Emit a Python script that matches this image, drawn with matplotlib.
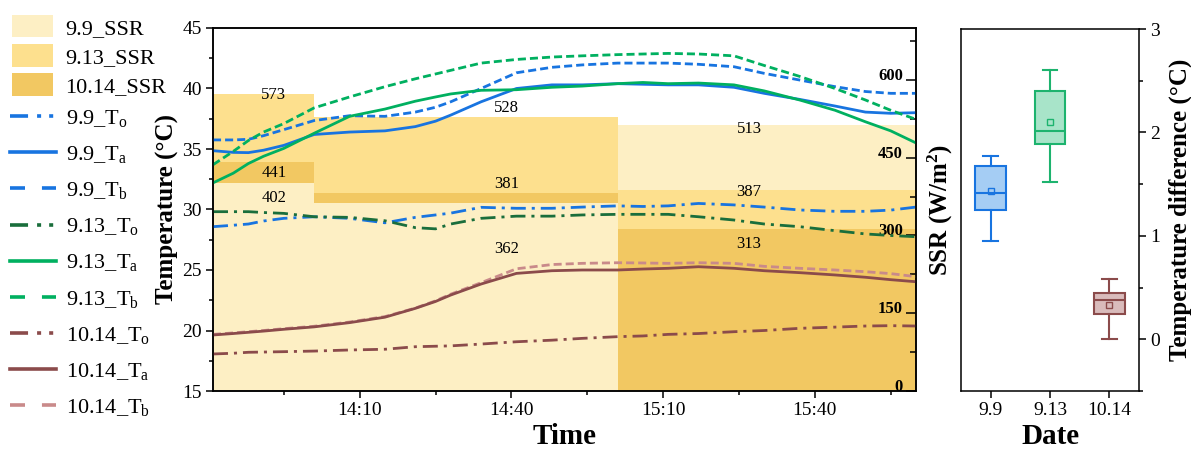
import matplotlib
matplotlib.use('Agg')
import matplotlib.pyplot as plt
from matplotlib.patches import Patch
from matplotlib.lines import Line2D
from matplotlib.ticker import MultipleLocator

plt.rcParams['font.family'] = 'Liberation Serif'
plt.rcParams['mathtext.fontset'] = 'custom'
plt.rcParams['mathtext.rm'] = 'Liberation Serif'
plt.rcParams['mathtext.it'] = 'Liberation Serif:italic'
plt.rcParams['mathtext.bf'] = 'Liberation Serif:bold'
plt.rcParams['lines.scale_dashes'] = False


def clock(s):
    h, m = s.split(':')
    return int(h) * 60 + int(m)


# Sampling times shared by all temperature series
times = ['13:41', '13:45', '13:48', '13:51', '13:55', '14:01', '14:08', '14:15',
         '14:21', '14:25', '14:28', '14:34', '14:41', '14:48', '14:54', '15:01',
         '15:06', '15:11', '15:17', '15:24', '15:30', '15:37', '15:44', '15:50',
         '15:55', '16:00']

# Temperatures (degC)
t99_o = [28.58, 28.7, 28.8, 29.05, 29.27, 29.4, 29.27, 28.9, 29.35, 29.55, 29.7,
         30.18, 30.1, 30.1, 30.2, 30.3, 30.25, 30.3, 30.5, 30.38, 30.2, 29.96,
         29.85, 29.85, 29.95, 30.2]
t99_a = [34.86, 34.72, 34.7, 34.9, 35.3, 36.2, 36.4, 36.5, 36.85, 37.3, 37.8,
         38.9, 40.0, 40.3, 40.3, 40.4, 40.35, 40.3, 40.3, 40.1, 39.6, 39.1,
         38.55, 38.05, 37.95, 38.0]
t99_b = [35.75, 35.75, 35.8, 36.1, 36.6, 37.35, 37.75, 37.7, 38.05, 38.45, 38.9,
         40.0, 41.3, 41.75, 41.95, 42.1, 42.1, 42.1, 42.0, 41.8, 41.25, 40.7,
         40.15, 39.75, 39.6, 39.6]
t913_o = [29.82, 29.82, 29.82, 29.75, 29.68, 29.4, 29.35, 29.07, 28.5, 28.4, 28.8,
          29.27, 29.45, 29.45, 29.55, 29.6, 29.6, 29.6, 29.4, 29.13, 28.8, 28.58,
          28.25, 27.98, 27.85, 27.75]
t913_a = [32.2, 33.0, 33.8, 34.4, 35.05, 36.3, 37.7, 38.3, 38.95, 39.3, 39.55,
          39.85, 39.9, 40.1, 40.2, 40.4, 40.5, 40.4, 40.45, 40.3, 39.8, 39.05,
          38.2, 37.25, 36.5, 35.5]
t913_b = [33.7, 34.8, 35.7, 36.4, 37.1, 38.4, 39.3, 40.15, 40.8, 41.2, 41.5,
          42.1, 42.4, 42.6, 42.7, 42.8, 42.85, 42.9, 42.85, 42.7, 41.9, 41.0,
          40.0, 39.05, 38.2, 37.45]
t1014_o = [18.06, 18.12, 18.2, 18.22, 18.25, 18.3, 18.39, 18.45, 18.66, 18.7,
           18.73, 18.88, 19.07, 19.2, 19.35, 19.49, 19.55, 19.68, 19.75, 19.9,
           20.0, 20.18, 20.28, 20.37, 20.4, 20.37]
t1014_a = [19.63, 19.75, 19.85, 19.95, 20.1, 20.3, 20.65, 21.1, 21.83, 22.4,
           22.93, 23.84, 24.72, 24.94, 25.0, 25.0, 25.08, 25.14, 25.27, 25.14,
           24.94, 24.78, 24.59, 24.4, 24.2, 24.03]
t1014_b = [19.68, 19.8, 19.9, 20.0, 20.15, 20.35, 20.7, 21.15, 21.85, 22.45,
           23.0, 23.95, 25.1, 25.45, 25.55, 25.6, 25.58, 25.55, 25.6, 25.55,
           25.3, 25.14, 25.0, 24.86, 24.7, 24.45]

# Solar radiation (W/m2) per time block
ssr_start = ['13:41', '14:01', '15:01']
ssr_end = ['14:01', '15:01', '16:00']
ssr_99 = [402, 362, 513]
ssr_913 = [573, 528, 387]
ssr_1014 = [441, 381, 313]

# Temperature difference box statistics
dates = ['9.9', '9.13', '10.14']
box_q1 = [1.25, 1.889, 0.242]
box_med = [1.418, 2.018, 0.38]
box_q3 = [1.676, 2.404, 0.451]
box_lo = [0.954, 1.524, 0.0]
box_hi = [1.776, 2.60, 0.58]
box_mean = [1.437, 2.105, 0.332]

# styling
blue = '#1874E0'
green = '#00B060'
dkgreen = '#1A6E3C'
brown = '#8B4B4B'
pink = '#C98A8A'
ssr_colors = ['#FDEFC4', '#FDE08E', '#F2C862']
box_fill = ['#A5CDF4', '#A8E4C9', '#D9BBBB']
box_edge = [blue, '#1DB36E', brown]
dash = (0, (5.8, 2.9))
dashdot = (0, (10.8, 4.3, 2.2, 4.3))
leg_dash = (0, (10.8, 12.2))
leg_dashdot = (0, (13, 6.5, 2.9, 5.8, 2.9, 20))
# label offsets above/below bar tops, per block
lab_x = ['13:53', '14:39', '15:27']
lab_dy = [[-29, -88, -8], [-2, 18, -4], [-20, 18, -29]]

fig = plt.figure(figsize=(11.91, 4.51), dpi=100)
W, H = 1191.0, 451.0
ax = fig.add_axes([213 / W, 60 / H, 703 / W, 363 / H])
ax2 = ax.twinx()
ax.set_zorder(ax2.get_zorder() + 1)
ax.patch.set_visible(False)

# SSR blocks, tallest drawn first so each one stays visible
x0 = [clock(s) for s in ssr_start]
wid = [clock(e) - clock(s) for s, e in zip(ssr_start, ssr_end)]
ssr_all = [ssr_99, ssr_913, ssr_1014]
for k in range(len(x0)):
    order = sorted(range(3), key=lambda d: -ssr_all[d][k])
    for z, d in enumerate(order):
        ax2.bar(x0[k], ssr_all[d][k], wid[k], align='edge',
                color=ssr_colors[d], linewidth=0, zorder=0.3 + 0.3 * z)
        ax2.text(clock(lab_x[k]), ssr_all[d][k] + lab_dy[d][k], str(ssr_all[d][k]),
                 ha='center', va='center', fontsize=12, zorder=10)

ax2.set_axisbelow(False)
ax2.set_ylim(0, 700)
ax2.yaxis.set_major_locator(MultipleLocator(150))
ax2.yaxis.set_minor_locator(MultipleLocator(75))
ax2.tick_params(axis='y', which='major', direction='in', length=7, width=1.1,
                pad=-9.5, labelsize=12)
ax2.tick_params(axis='y', which='minor', direction='in', length=4, width=1.1)
for lbl in ax2.get_yticklabels():
    lbl.set_ha('right')
    lbl.set_va('baseline')
    lbl.set_fontweight('bold')
ax2.set_ylabel('SSR (W/m$^\\mathbf{2}$)', fontsize=18, fontweight='bold', labelpad=4)

tx = [clock(t) for t in times]
series = [
    (t99_o, blue, dashdot, leg_dashdot, '9.9_T$_\\mathregular{o}$'),
    (t99_a, blue, '-', '-', '9.9_T$_\\mathregular{a}$'),
    (t99_b, blue, dash, leg_dash, '9.9_T$_\\mathregular{b}$'),
    (t913_o, dkgreen, dashdot, leg_dashdot, '9.13_T$_\\mathregular{o}$'),
    (t913_a, green, '-', '-', '9.13_T$_\\mathregular{a}$'),
    (t913_b, green, dash, leg_dash, '9.13_T$_\\mathregular{b}$'),
    (t1014_o, brown, dashdot, leg_dashdot, '10.14_T$_\\mathregular{o}$'),
    (t1014_b, pink, dash, leg_dash, '10.14_T$_\\mathregular{b}$'),
    (t1014_a, brown, '-', '-', '10.14_T$_\\mathregular{a}$'),
]
for vals, c, ls, _, _ in series:
    ax.plot(tx, vals, color=c, linestyle=ls, linewidth=2.0, solid_capstyle='butt',
            dash_capstyle='butt')

ax.set_xlim(clock('13:41'), clock('16:00'))
ax.set_ylim(15, 45)
tick_times = ['14:10', '14:40', '15:10', '15:40']
ax.set_xticks([clock(t) for t in tick_times], tick_times)
ax.xaxis.set_minor_locator(MultipleLocator(15, offset=10))
ax.yaxis.set_major_locator(MultipleLocator(5))
ax.yaxis.set_minor_locator(MultipleLocator(2.5))
ax.tick_params(which='major', direction='out', length=5, width=1.1, labelsize=14, pad=3)
ax.tick_params(which='minor', direction='out', length=3, width=1.1)
ax.set_xlabel('Time', fontsize=21, fontweight='bold', labelpad=3)
ax.set_ylabel('Temperature (\u00b0C)', fontsize=18, fontweight='bold', labelpad=2)
for a in (ax, ax2):
    for sp in a.spines.values():
        sp.set_linewidth(1.1)

# box plot of temperature difference
ax3 = fig.add_axes([961 / W, 60 / H, 178 / W, 362 / H])
stats = []
for i in range(3):
    stats.append(dict(med=box_med[i], q1=box_q1[i], q3=box_q3[i], whislo=box_lo[i],
                      whishi=box_hi[i], mean=box_mean[i], fliers=[], label=dates[i]))
bp = ax3.bxp(stats, positions=[1, 2, 3], widths=0.52, capwidths=0.25,
             patch_artist=True, showmeans=True, showfliers=False)
for i in range(3):
    bp['boxes'][i].set_facecolor(box_fill[i])
    bp['boxes'][i].set_edgecolor(box_edge[i])
    bp['boxes'][i].set_linewidth(1.5)
    bp['medians'][i].set_color(box_edge[i])
    bp['medians'][i].set_linewidth(1.5)
    for j in (2 * i, 2 * i + 1):
        bp['whiskers'][j].set_color(box_edge[i])
        bp['whiskers'][j].set_linewidth(1.5)
        bp['caps'][j].set_color(box_edge[i])
        bp['caps'][j].set_linewidth(1.5)
    bp['means'][i].set_marker('s')
    bp['means'][i].set_markersize(4)
    bp['means'][i].set_markerfacecolor('none')
    bp['means'][i].set_markeredgecolor(box_edge[i])
    bp['means'][i].set_markeredgewidth(1.0)
ax3.set_xlim(0.5, 3.5)
ax3.set_ylim(-0.5, 3)
ax3.yaxis.tick_right()
ax3.yaxis.set_label_position('right')
ax3.yaxis.set_major_locator(MultipleLocator(1))
ax3.yaxis.set_minor_locator(MultipleLocator(0.5))
ax3.tick_params(which='major', direction='out', length=5, width=1.1, labelsize=14, pad=3)
ax3.tick_params(which='minor', direction='out', length=3, width=1.1)
ax3.tick_params(axis='x', which='minor', bottom=False)
ax3.set_xlabel('Date', fontsize=21, fontweight='bold', labelpad=3)
ax3.set_ylabel('Temperature difference (\u00b0C)', fontsize=18, fontweight='bold', labelpad=6)
for sp in ax3.spines.values():
    sp.set_linewidth(1.1)

# legends: SSR blocks then temperature lines
ssr_names = ['9.9_SSR', '9.13_SSR', '10.14_SSR']
ph = [Patch(facecolor=c, edgecolor='none') for c in ssr_colors]
fig.legend(ph, ssr_names, loc='upper left', bbox_to_anchor=(12 / W, 1 - 15 / H),
           frameon=False, fontsize=16, borderpad=0, borderaxespad=0,
           handlelength=1.85, handleheight=1.17, handletextpad=0.55, labelspacing=0.25)
leg_order = [0, 1, 2, 3, 4, 5, 6, 8, 7]
lh = [Line2D([], [], color=series[i][1], linestyle=series[i][3], linewidth=2.6)
      for i in leg_order]
fig.legend(lh, [series[i][4] for i in leg_order], loc='upper left',
           bbox_to_anchor=(10 / W, 1 - 108 / H), frameon=False, fontsize=16,
           borderpad=0, borderaxespad=0, handlelength=2.05, handletextpad=0.45,
           labelspacing=0.68)

fig.savefig('out.png', dpi=100)
